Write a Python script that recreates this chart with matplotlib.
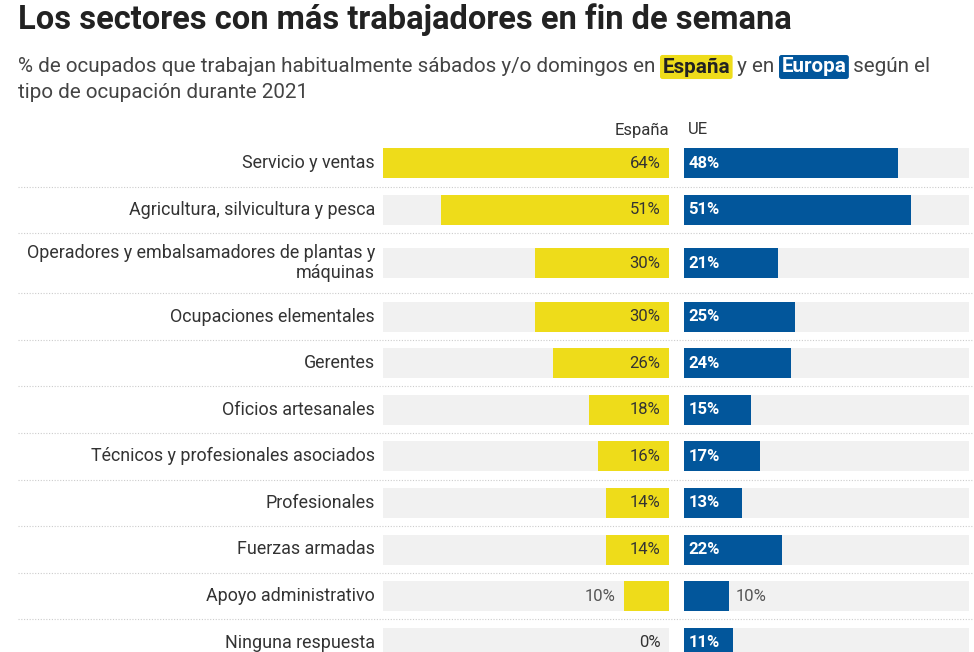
import matplotlib.pyplot as plt

plt.rcParams['font.family'] = ['Roboto', 'DejaVu Sans']

categories = ['Servicio y ventas', 'Agricultura, silvicultura y pesca',
              'Operadores y embalsamadores de plantas y\nmáquinas',
              'Ocupaciones elementales', 'Gerentes', 'Oficios artesanales',
              'Técnicos y profesionales asociados', 'Profesionales',
              'Fuerzas armadas', 'Apoyo administrativo', 'Ninguna respuesta']
espana = [64, 51, 30, 30, 26, 18, 16, 14, 14, 10, 0]
ue = [48, 51, 21, 25, 24, 15, 17, 13, 22, 10, 11]

YELLOW = '#EEDC1A'
BLUE = '#02569B'
BG = '#F1F1F1'
TXT = '#333333'
W, H = 974, 652
XMAX = 64

fig = plt.figure(figsize=(W / 100, H / 100), dpi=100)

def ax_px(x0, x1, y0, y1):
    return fig.add_axes([x0 / W, 1 - y1 / H, (x1 - x0) / W, (y1 - y0) / H])

# row layout (pixels)
top = 140
heights = [60 if '\n' in c else 46.6 for c in categories]
centers, seps = [], []
y = top
for h in heights:
    centers.append(y + h / 2)
    y += h
    seps.append(y)

# separators across full width
base = ax_px(0, W, 0, H)
base.set_xlim(0, W); base.set_ylim(H, 0); base.axis('off')
for s in seps[:-1]:
    base.plot([18, 974], [s, s], color='#CCCCCC', lw=0.8, ls=(0, (1, 1.5)))

for c, lab in zip(centers, categories):
    base.text(375, c, lab, ha='right', va='center', fontsize=12.9, color=TXT,
              linespacing=1.15)

base.text(18, 20, 'Los sectores con más trabajadores en fin de semana',
          fontsize=23.5, fontweight='bold', color='#222222', va='center')
base.text(669, 130, 'España', ha='right', va='center', fontsize=12, color=TXT)
base.text(688, 130, 'UE', ha='left', va='center', fontsize=12, color=TXT)

# subtitle with highlighted words
fig.canvas.draw()
r = fig.canvas.get_renderer()
parts = [('% de ocupados que trabajan habitualmente sábados y/o domingos en ', None),
         ('España', YELLOW), (' y en ', None), ('Europa', BLUE), (' según el', None)]
x = 18
for t, col in parts:
    kw = dict(fontsize=14.9, va='center', color='#444444')
    if col:
        kw.update(fontweight='bold', color='white' if col == BLUE else '#222222',
                  bbox=dict(boxstyle='round,pad=0.12', fc=col, ec='none'))
    tx = base.text(x, 67, t, **kw)
    bb = tx.get_window_extent(r)
    x += bb.width * 1.0 + (4 if col else 0)
    if col:
        tx.set_x(x - bb.width - 2)
base.text(18, 92, 'tipo de ocupación durante 2021', fontsize=14.9, va='center',
          color='#444444')

bh = 30
# Spain panel
ax1 = ax_px(383, 669, 0, H)
ax1.set_xlim(XMAX, 0); ax1.set_ylim(H, 0); ax1.axis('off')
ax1.barh(centers, [XMAX] * len(centers), height=bh, color=BG)
ax1.barh(centers, espana, height=bh, color=YELLOW)
for c, v in zip(centers, espana):
    if v >= 12 or v == 0:
        ax1.text(1.9, c, f'{v}%', ha='right', va='center', fontsize=12, color=TXT)
    else:
        ax1.text(v + 2, c, f'{v}%', ha='right', va='center', fontsize=12, color='#555555')

# UE panel
ax2 = ax_px(684, 969, 0, H)
ax2.set_xlim(0, XMAX); ax2.set_ylim(H, 0); ax2.axis('off')
ax2.barh(centers, [XMAX] * len(centers), height=bh, color=BG)
ax2.barh(centers, ue, height=bh, color=BLUE)
for c, v in zip(centers, ue):
    if v > 10:
        ax2.text(1.0, c, f'{v}%', ha='left', va='center', fontsize=12,
                 color='white', fontweight='bold')
    else:
        ax2.text(v + 1.6, c, f'{v}%', ha='left', va='center', fontsize=12, color='#555555')

fig.savefig('out.png', dpi=100)
